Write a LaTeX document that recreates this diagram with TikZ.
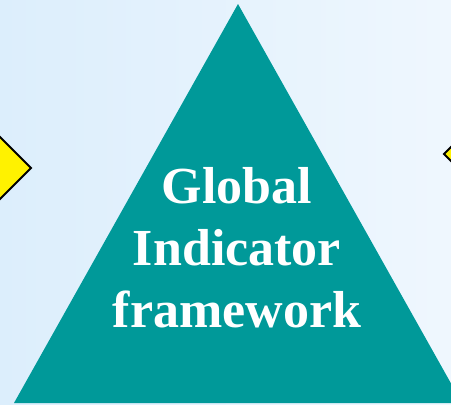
\documentclass[tikz,border=0pt]{standalone}
\usepackage{fontspec}
\setmainfont{Liberation Serif}
\definecolor{teal1}{HTML}{009999}
\definecolor{skyL}{HTML}{DCEEFC}
\definecolor{skyR}{HTML}{EFF7FE}

\begin{document}
\begin{tikzpicture}[x=1pt, y=-1pt, line width=1.8pt]
        % 背景
        \clip (0, 0) rectangle (451, 405);
        \shade[left color=skyL, right color=skyR] (0, 0) rectangle (451, 405);

        % 两侧黄色菱形
        \draw[fill=yellow] (-31, 168) -- (0, 137) -- (31, 168) -- (0, 199) -- cycle;
        \draw[fill=yellow] (444, 154) -- (458, 140) -- (472, 154) -- (458, 168) -- cycle;

        % 三角形
        \fill[teal1] (238, 4) -- (462, 403) -- (14, 403) -- cycle;

        % 文字
        \node[anchor=north, inner sep=0pt, align=center, text=white,
              font=\fontsize{52}{62}\selectfont\bfseries] (title) at (237, 167)
              {Global\\Indicator\\framework};
    \end{tikzpicture}
\end{document}
